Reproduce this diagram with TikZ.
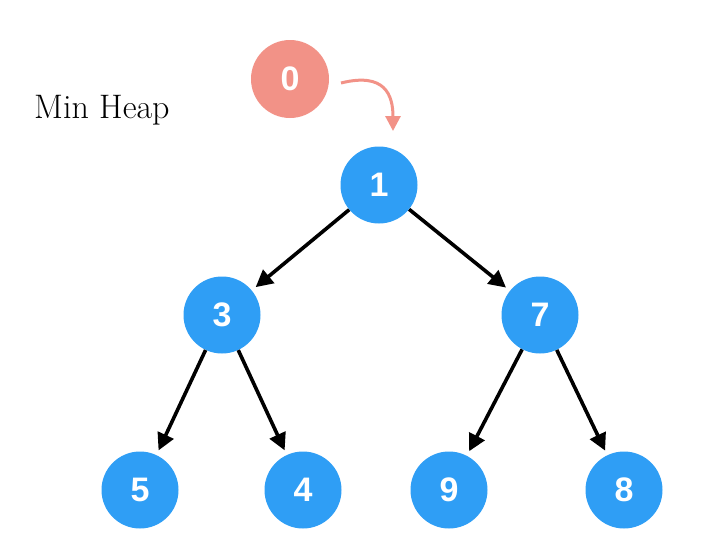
\documentclass[tikz,border=0pt]{standalone}
\usepackage{fontspec}
\setsansfont{Liberation Sans}
\usetikzlibrary{arrows.meta}
\definecolor{heapblue}{RGB}{47,158,245}
\definecolor{heapsalmon}{RGB}{242,146,135}
\begin{document}
\begin{tikzpicture}[x=1pt,y=-1pt,
 hnode/.style={circle, fill=heapblue, minimum size=77pt, inner sep=0pt, text=white, font=\sffamily\bfseries\fontsize{34}{34}\selectfont},
 edge/.style={line width=3.6pt, -{Triangle[length=17pt,width=17pt]}, shorten >=5pt},
 titletext/.style={font=\fontsize{34}{34}\selectfont, anchor=base west, inner sep=0pt}]
\useasboundingbox (0,0) rectangle (702,541);
\node[hnode, fill=heapsalmon, minimum size=78pt] (n0) at (290,79) {0};
\node[hnode] (n1) at (379,185) {1};
\node[hnode] (n3) at (222,315) {3};
\node[hnode] (n7) at (540,315) {7};
\node[hnode] (n5) at (140,490) {5};
\node[hnode] (n4) at (303,490) {4};
\node[hnode] (n9) at (449,490) {9};
\node[hnode] (n8) at (624,490) {8};
\node[titletext] (title) at (34,118) {Min Heap};
\coordinate (cs) at (341,83);
\coordinate (ce) at (393,131);
\draw[heapsalmon, line width=3pt, -{Triangle[length=15pt,width=15pt]}] (cs) .. controls (385,72) and (393,95) .. (ce);
\draw[edge] (n1) -- (n3);
\draw[edge] (n1) -- (n7);
\draw[edge] (n3) -- (n5);
\draw[edge] (n3) -- (n4);
\draw[edge] (n7) -- (n9);
\draw[edge] (n7) -- (n8);
\end{tikzpicture}
\end{document}
